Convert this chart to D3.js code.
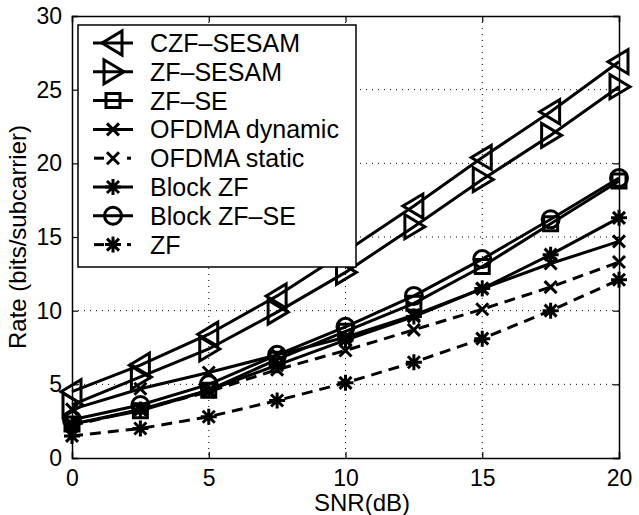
<!DOCTYPE html>
<html lang="en">
  <head>
    <meta charset="UTF-8" />
    <title>Rate vs SNR</title>
    <script src="https://d3js.org/d3.v7.min.js"></script>
    <style>
      body { margin: 0; background: #fff; }
      svg text { font-family: 'Liberation Sans', Arial, sans-serif; fill: #000; }
    </style>
  </head>
  <body>
    <div id="chart"></div>
    <script>
      const snr = [0, 2.5, 5, 7.5, 10, 12.5, 15, 17.5, 20];
      const xTicks = [0, 5, 10, 15, 20];
      const yTicks = [0, 5, 10, 15, 20, 25, 30];

      const czfSesam = [4.5, 6.3, 8.4, 11.0, 14.0, 17.1, 20.4, 23.5, 26.9];
      const zfSesam = [3.6, 5.5, 7.4, 9.9, 12.6, 15.7, 18.9, 21.9, 25.2];
      const zfSe = [2.3, 3.2, 4.6, 6.7, 8.6, 10.5, 13.0, 15.9, 18.8];
      const ofdmaDynamic = [3.3, 4.7, 5.8, 7.0, 8.2, 9.7, 11.5, 13.2, 14.7];
      const ofdmaStatic = [2.2, 3.3, 4.5, 6.0, 7.3, 8.7, 10.1, 11.6, 13.3];
      const blockZf = [2.3, 3.3, 4.6, 6.3, 8.0, 9.6, 11.5, 13.8, 16.3];
      const blockZfSe = [2.6, 3.6, 5.0, 7.0, 8.9, 11.0, 13.5, 16.2, 19.0];
      const zf = [1.5, 2.0, 2.8, 3.9, 5.1, 6.5, 8.1, 10.0, 12.1];

      const series = [
        { name: 'CZF\u2013SESAM', values: czfSesam, marker: 'triLeft', dashed: false },
        { name: 'ZF\u2013SESAM', values: zfSesam, marker: 'triRight', dashed: false },
        { name: 'ZF\u2013SE', values: zfSe, marker: 'square', dashed: false },
        { name: 'OFDMA dynamic', values: ofdmaDynamic, marker: 'cross', dashed: false },
        { name: 'OFDMA static', values: ofdmaStatic, marker: 'cross', dashed: true },
        { name: 'Block ZF', values: blockZf, marker: 'star', dashed: false },
        { name: 'Block ZF\u2013SE', values: blockZfSe, marker: 'circle', dashed: false },
        { name: 'ZF', values: zf, marker: 'star', dashed: true }
      ];

      const W = 639, H = 515;
      const margin = { top: 16, right: 20, bottom: 57, left: 72 };
      const width = W - margin.left - margin.right;
      const height = H - margin.top - margin.bottom;

      const svg = d3
        .select('#chart')
        .append('svg')
        .attr('width', W)
        .attr('height', H);

      const g = svg
        .append('g')
        .attr('transform', 'translate(' + margin.left + ',' + margin.top + ')');

      const x = d3.scaleLinear().domain([0, 20]).range([0, width]);
      const y = d3.scaleLinear().domain([0, 30]).range([height, 0]);

      // dotted grid
      g.append('g')
        .selectAll('line')
        .data(xTicks.slice(1, -1))
        .join('line')
        .attr('x1', (d) => x(d)).attr('x2', (d) => x(d))
        .attr('y1', 0).attr('y2', height)
        .attr('stroke', '#000').attr('stroke-width', 1)
        .attr('stroke-dasharray', '1,5');
      g.append('g')
        .selectAll('line')
        .data(yTicks.slice(1, -1))
        .join('line')
        .attr('y1', (d) => y(d)).attr('y2', (d) => y(d))
        .attr('x1', 0).attr('x2', width)
        .attr('stroke', '#000').attr('stroke-width', 1)
        .attr('stroke-dasharray', '1,5');

      // axes, ticks inward
      const xAxis = g.append('g')
        .attr('transform', 'translate(0,' + height + ')')
        .call(d3.axisBottom(x).tickValues(xTicks).tickSize(-6).tickPadding(12));
      const yAxis = g.append('g')
        .call(d3.axisLeft(y).tickValues(yTicks).tickSize(-6).tickPadding(10));
      g.append('g')
        .call(d3.axisTop(x).tickValues(xTicks).tickSize(-6).tickFormat(''));
      g.append('g')
        .attr('transform', 'translate(' + width + ',0)')
        .call(d3.axisRight(y).tickValues(yTicks).tickSize(-6).tickFormat(''));
      g.selectAll('.domain').attr('stroke', '#000').attr('stroke-width', 1.5);
      g.selectAll('.tick line').attr('stroke', '#000').attr('stroke-width', 1.2);
      xAxis.selectAll('text').style('font-size', '23px');
      yAxis.selectAll('text').style('font-size', '23px');

      svg.append('text')
        .attr('x', 362)
        .attr('y', 511)
        .attr('text-anchor', 'middle')
        .style('font-size', '24px')
        .text('SNR(dB)');
      svg.append('text')
        .attr('transform', 'translate(26,' + (margin.top + height / 2) + ') rotate(-90)')
        .attr('text-anchor', 'middle')
        .style('font-size', '24px')
        .text('Rate (bits/subcarrier)');

      // marker path
      function markerPath(type) {
        const p = d3.path();
        if (type === 'triLeft') {
          p.moveTo(-11, 0); p.lineTo(9, -12); p.lineTo(9, 12); p.closePath();
        } else if (type === 'triRight') {
          p.moveTo(11, 0); p.lineTo(-9, -12); p.lineTo(-9, 12); p.closePath();
        } else if (type === 'square') {
          p.rect(-7, -7, 14, 14);
        } else if (type === 'circle') {
          p.arc(0, 0, 8.5, 0, 2 * Math.PI);
        } else if (type === 'cross') {
          p.moveTo(-6, -6); p.lineTo(6, 6); p.moveTo(-6, 6); p.lineTo(6, -6);
        } else if (type === 'star') {
          p.moveTo(-8, 0); p.lineTo(8, 0);
          p.moveTo(0, -8); p.lineTo(0, 8);
          p.moveTo(-6, -6); p.lineTo(6, 6);
          p.moveTo(-6, 6); p.lineTo(6, -6);
        }
        return p.toString();
      }

      const line = d3.line()
        .x((d, i) => x(snr[i]))
        .y((d) => y(d));

      const plot = g.append('g');
      series.forEach((s) => {
        plot.append('path')
          .attr('d', line(s.values))
          .attr('fill', 'none')
          .attr('stroke', '#000')
          .attr('stroke-width', 3)
          .attr('stroke-dasharray', s.dashed ? '11,7' : null);
        plot.append('g')
          .selectAll('path')
          .data(s.values)
          .join('path')
          .attr('transform', (d, i) => 'translate(' + x(snr[i]) + ',' + y(d) + ')')
          .attr('d', markerPath(s.marker))
          .attr('fill', 'none')
          .attr('stroke', '#000')
          .attr('stroke-width', 3);
      });

      // legend
      const lg = svg.append('g').attr('transform', 'translate(78,25)');
      lg.append('rect')
        .attr('width', 278).attr('height', 242)
        .attr('fill', '#fff').attr('stroke', '#000').attr('stroke-width', 1.5);
      series.forEach((s, i) => {
        const ly = 18 + i * 28.8;
        const row = lg.append('g').attr('transform', 'translate(0,' + ly + ')');
        if (s.dashed) {
          row.append('line').attr('x1', 16).attr('x2', 26).attr('y1', 0).attr('y2', 0)
            .attr('stroke', '#000').attr('stroke-width', 3);
          row.append('line').attr('x1', 49).attr('x2', 53).attr('y1', 0).attr('y2', 0)
            .attr('stroke', '#000').attr('stroke-width', 3);
        } else {
          row.append('line').attr('x1', 15).attr('x2', 55).attr('y1', 0).attr('y2', 0)
            .attr('stroke', '#000').attr('stroke-width', 3);
        }
        row.append('path')
          .attr('transform', 'translate(35,0)')
          .attr('d', markerPath(s.marker))
          .attr('fill', 'none').attr('stroke', '#000').attr('stroke-width', 3);
        row.append('text')
          .attr('x', 72).attr('y', 9)
          .style('font-size', '25px')
          .text(s.name);
      });
    </script>
  </body>
</html>
